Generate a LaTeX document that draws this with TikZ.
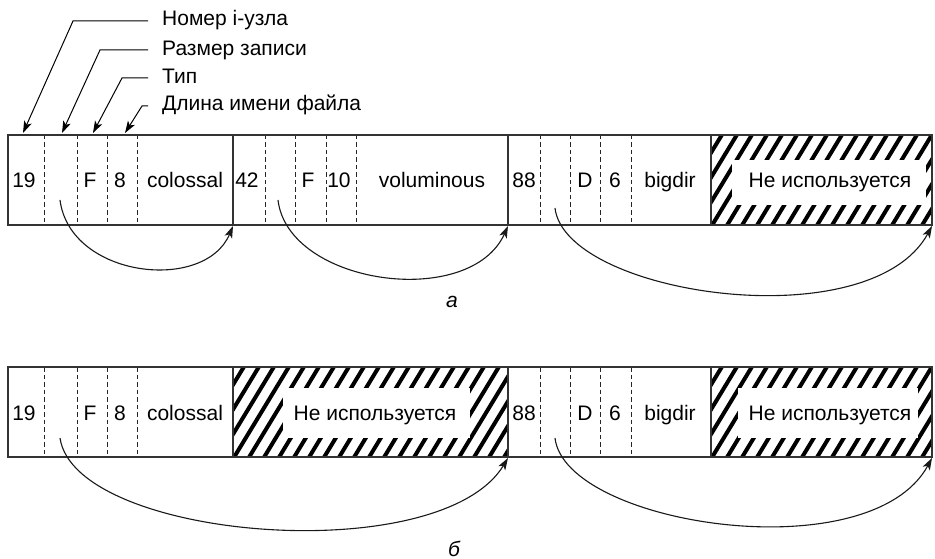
\documentclass[tikz,border=0pt]{standalone}
\usepackage{fontspec}
\setmainfont{Liberation Sans}
\usetikzlibrary{arrows.meta}
\begin{document}
\begin{tikzpicture}[x=1pt,y=-1pt,
  txt/.style={font=\fontsize{21}{24}\selectfont, inner sep=0pt, anchor=base},
  lbl/.style={font=\fontsize{21}{24}\selectfont, inner sep=0pt, anchor=base west},
  captxt/.style={font=\fontsize{21}{24}\selectfont\itshape, inner sep=0pt, anchor=base},
  frame/.style={draw=black!80, line width=1.4pt},
  solidsep/.style={draw=black!80, line width=1.3pt},
  dashsep/.style={draw=black!85, line width=0.9pt, dash pattern=on 4.5pt off 3pt},
  leader/.style={draw=black, line width=1pt, -{Stealth[length=12pt,width=8pt,inset=3pt]}},
  jump/.style={draw=black!90, line width=1.1pt, -{Stealth[length=12pt,width=8pt,inset=3pt]}},
  hatchline/.style={line width=4pt, black}
]
\useasboundingbox (0,0) rectangle (935,559);
\fill[white] (0,0) rectangle (935,559);

% ---------- hatched areas ----------
% row a
\begin{scope}
  \clip (711,135) rectangle (932,225);
  \foreach \k in {-5,...,16} \draw[hatchline] (711+15*\k,227) -- (711+15*\k+57,133);
\end{scope}
\fill[white] (732,160) rectangle (926,205);
% row b, first
\begin{scope}
  \clip (233,367) rectangle (508,457);
  \foreach \k in {-5,...,19} \draw[hatchline] (233+15*\k,459) -- (233+15*\k+57,365);
\end{scope}
\fill[white] (283,388) rectangle (470,438);
% row b, second
\begin{scope}
  \clip (711,367) rectangle (932,457);
  \foreach \k in {-5,...,16} \draw[hatchline] (711+15*\k,459) -- (711+15*\k+57,365);
\end{scope}
\fill[white] (738,388) rectangle (918,438);

% ---------- row a ----------
\foreach \x in {44,77,107,137,265,295,326,356,540,570,600,631}
  \draw[dashsep] (\x,135) -- (\x,225);
\foreach \x in {233,508,711}
  \draw[solidsep] (\x,135) -- (\x,225);
\draw[frame] (8,135) rectangle (932,225);

\node[txt] (a19) at (24,188) {19};
\node[txt] (aF1) at (90,188) {F};
\node[txt] (a8) at (120,188) {8};
\node[txt] (acol) at (185,188) {colossal};
\node[txt] (a42) at (247,188) {42};
\node[txt] (aF2) at (308,188) {F};
\node[txt] (a10) at (339,188) {10};
\node[txt] (avol) at (432,188) {voluminous};
\node[txt] (a88) at (524,188) {88};
\node[txt] (aD) at (585,188) {D};
\node[txt] (a6) at (615,188) {6};
\node[txt] (abig) at (670,188) {bigdir};
\node[txt] (afree) at (830,188) {Не используется};

% ---------- row b ----------
\foreach \x in {44,77,107,137,540,570,600,631}
  \draw[dashsep] (\x,367) -- (\x,457);
\foreach \x in {233,508,711}
  \draw[solidsep] (\x,367) -- (\x,457);
\draw[frame] (8,367) rectangle (932,457);

\node[txt] (b19) at (24,420) {19};
\node[txt] (bF1) at (90,420) {F};
\node[txt] (b8) at (120,420) {8};
\node[txt] (bcol) at (185,420) {colossal};
\node[txt] (bfree1) at (375,420) {Не используется};
\node[txt] (b88) at (524,420) {88};
\node[txt] (bD) at (585,420) {D};
\node[txt] (b6) at (615,420) {6};
\node[txt] (bbig) at (670,420) {bigdir};
\node[txt] (bfree2) at (830,420) {Не используется};

% ---------- top labels ----------
\node[lbl] (t1) at (162,26) {Номер i-узла};
\node[lbl] (t2) at (162,56) {Размер записи};
\node[lbl] (t3) at (162,84) {Тип};
\node[lbl] (t4) at (162,111) {Длина имени файла};

\coordinate (t1s) at (148,21);
\coordinate (t2s) at (148,50);
\coordinate (t3s) at (148,78);
\coordinate (t4s) at (148,106);
\coordinate (p1) at (23,133);
\coordinate (p2) at (62,133);
\coordinate (p3) at (93,133);
\coordinate (p4) at (125,133);
\draw[leader] (t1s) -- (73,21) -- (p1);
\draw[leader] (t2s) -- (100,50) -- (p2);
\draw[leader] (t3s) -- (122,78) -- (p3);
\draw[leader] (t4s) -- (142,106) -- (p4);

% ---------- jump arrows, row a ----------
\coordinate (a1s) at (60,200);
\coordinate (a1e) at (233,226);
\coordinate (a2s) at (278,200);
\coordinate (a2e) at (508,226);
\coordinate (a3s) at (555,208);
\coordinate (a3e) at (932,226);
\draw[jump] (a1s) .. controls (70,278) and (205,293) .. (a1e);
\draw[jump] (a2s) .. controls (288,285) and (470,310) .. (a2e);
\draw[jump] (a3s) .. controls (565,295) and (870,340) .. (a3e);

% ---------- jump arrows, row b ----------
\coordinate (b1s) at (60,438);
\coordinate (b1e) at (508,458);
\coordinate (b2s) at (555,438);
\coordinate (b2e) at (932,458);
\draw[jump] (b1s) .. controls (75,540) and (440,570) .. (b1e);
\draw[jump] (b2s) .. controls (565,525) and (870,572) .. (b2e);

% ---------- captions ----------
\node[captxt] (capa) at (452,307) {a};
\node[captxt] (capb) at (454,556) {б};
\end{tikzpicture}
\end{document}
